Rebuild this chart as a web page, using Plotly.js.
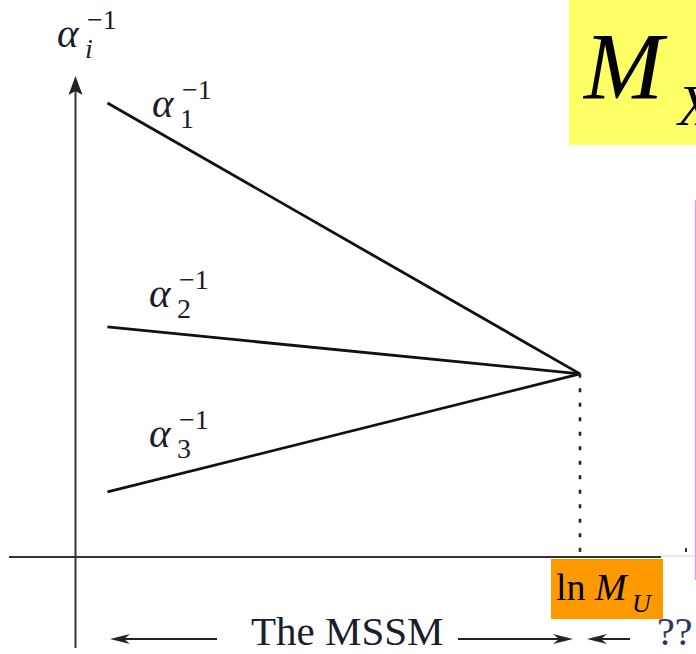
<!DOCTYPE html>
<html>
<head>
<meta charset="utf-8">
<script src="https://cdn.plot.ly/plotly-3.0.1.min.js"></script>
<style>
  html, body { margin: 0; padding: 0; background: #ffffff; }
  #plot { width: 696px; height: 654px; }
</style>
</head>
<body>
<div id="plot"></div>
<script>
// Running of the inverse gauge couplings with ln(mu): schematic MSSM unification.
const lnMu = [1.9, 30.0];          // low scale -> unification scale ln M_U
const alpha1Inv = [59.0, 23.8];
const alpha2Inv = [29.9, 23.8];
const alpha3Inv = [8.45, 23.8];
const couplingLabels = ['1', '2', '3'];

const W = 696, H = 654;
const fx = p => p / W;          // layout pixel -> paper fraction
const fy = p => 1 - p / H;

const SERIF = 'Liberation Serif, Times New Roman, serif';
const INK = '#1a1c30';

const lineStyle = { color: '#111111', width: 2.8 };
const traces = [alpha1Inv, alpha2Inv, alpha3Inv].map(a => ({
  type: 'scatter', mode: 'lines', x: lnMu, y: a,
  line: lineStyle, hoverinfo: 'skip', showlegend: false
}));
const MU = lnMu[lnMu.length - 1];
const alphaU = alpha1Inv[alpha1Inv.length - 1];
// dotted drop from the unification point to the axis
traces.push({
  type: 'scatter', mode: 'lines', x: [MU, MU], y: [alphaU, 0],
  line: { color: '#222222', width: 2.6, dash: '4px,10.5px' },
  hoverinfo: 'skip', showlegend: false
});

function txt(text, xp, yp, size, opts) {
  return Object.assign({
    xref: 'paper', yref: 'paper', x: fx(xp), y: fy(yp),
    xanchor: 'left', yanchor: 'bottom', showarrow: false,
    borderpad: 0, borderwidth: 0, text: text,
    font: { family: SERIF, size: size, color: INK }
  }, opts || {});
}

// alpha^{-1} label: alpha, stacked subscript and superscript
function alphaLabel(sub, left, base, subItalic) {
  return [
    txt('<i>α</i>', left, base + 8.6, 41),
    txt(subItalic ? '<i>' + sub + '</i>' : sub, left + 28, base + 11 + 6, 28),
    txt('−1', left + 30, base - 18 + 6, 28)
  ];
}

const annotations = []
  .concat(alphaLabel('i', 57, 47, true))
  .concat(alphaLabel(couplingLabels[0], 152, 117))
  .concat(alphaLabel(couplingLabels[1], 149, 307))
  .concat(alphaLabel(couplingLabels[2], 149, 447))
  .concat([
    txt('The MSSM', 347.5, 653.5, 41, { xanchor: 'center' }),
    txt('??', 657, 653.5, 40, { font: { family: SERIF, size: 40, color: '#2a3560' } }),
    txt('ln <i>M</i>', 556, 608, 38, { font: { family: SERIF, size: 38, color: '#000' } }),
    txt('<i>U</i>', 632, 617.5, 26, { font: { family: SERIF, size: 26, color: '#000' } }),
    txt('<i>M</i>', 582, 120, 95, { font: { family: SERIF, size: 95, color: '#000' } }),
    txt('<i>X</i>', 676, 137, 56, { font: { family: SERIF, size: 56, color: '#000' } })
  ]);

function hline(x0, x1, yp, color, width) {
  return { type: 'line', xref: 'paper', yref: 'paper', x0: fx(x0), x1: fx(x1),
           y0: fy(yp), y1: fy(yp), line: { color: color, width: width } };
}
function head(xp, yp, path) {
  return { type: 'path', xref: 'paper', yref: 'paper',
           xsizemode: 'pixel', ysizemode: 'pixel',
           xanchor: fx(xp), yanchor: fy(yp), path: path,
           fillcolor: '#222222', line: { width: 0 } };
}
const LEFT = 'M0,0 L20,5 L14,0 L20,-5 Z';
const RIGHT = 'M0,0 L-20,5 L-14,0 L-20,-5 Z';

const shapes = [
  // highlight boxes
  { type: 'rect', xref: 'paper', yref: 'paper', x0: fx(569), x1: 1.02, y0: fy(145), y1: 1.02,
    fillcolor: '#ffff66', line: { width: 0 } },
  { type: 'rect', xref: 'paper', yref: 'paper', x0: fx(551), x1: fx(663), y0: fy(619), y1: fy(559),
    fillcolor: '#ff9900', line: { width: 0 } },
  // horizontal axis along alpha^{-1} = 0
  { type: 'line', xref: 'paper', yref: 'y', x0: fx(9), x1: fx(661), y0: 0, y1: 0,
    line: { color: '#333333', width: 2 } },
  hline(661, 696, 556, '#d6d6d6', 1),
  // vertical axis at x = 0 with arrowhead
  { type: 'line', xref: 'x', yref: 'paper', x0: 0, x1: 0, y0: fy(648), y1: fy(84),
    line: { color: '#333333', width: 2 } },
  { type: 'path', xref: 'x', yref: 'paper', xsizemode: 'pixel', ysizemode: 'pixel',
    xanchor: 0, yanchor: fy(76), path: 'M0,0 L-7,-19 L0,-15 L7,-19 Z',
    fillcolor: '#222222', line: { width: 0 } },
  // range arrows under the axis
  hline(114, 217, 639, '#222222', 2),
  head(110, 639, LEFT),
  hline(458, 569, 639, '#222222', 2),
  head(573, 639, RIGHT),
  hline(591, 630, 639, '#222222', 2),
  head(587, 639, LEFT),
  // small axis marks
  { type: 'rect', xref: 'paper', yref: 'paper', x0: fx(579), x1: fx(581), y0: fy(552), y1: fy(548),
    fillcolor: '#333333', line: { width: 0 } },
  { type: 'rect', xref: 'paper', yref: 'paper', x0: fx(685), x1: fx(687), y0: fy(552), y1: fy(548),
    fillcolor: '#333333', line: { width: 0 } },
  // right edge rule
  { type: 'line', xref: 'paper', yref: 'paper', x0: fx(695.5), x1: fx(695.5), y0: fy(580), y1: fy(200),
    line: { color: '#e29ae6', width: 1.5 } }
];

const layout = {
  width: W, height: H, autosize: false,
  margin: { l: 0, r: 0, t: 0, b: 0, pad: 0 },
  paper_bgcolor: '#ffffff', plot_bgcolor: '#ffffff',
  showlegend: false,
  xaxis: { range: [-4.4896, 36.898], visible: false, fixedrange: true },
  yaxis: { range: [-12.606, 72.385], visible: false, fixedrange: true },
  shapes: shapes,
  annotations: annotations
};

Plotly.newPlot('plot', traces, layout, { staticPlot: true, displayModeBar: false });
</script>
</body>
</html>
